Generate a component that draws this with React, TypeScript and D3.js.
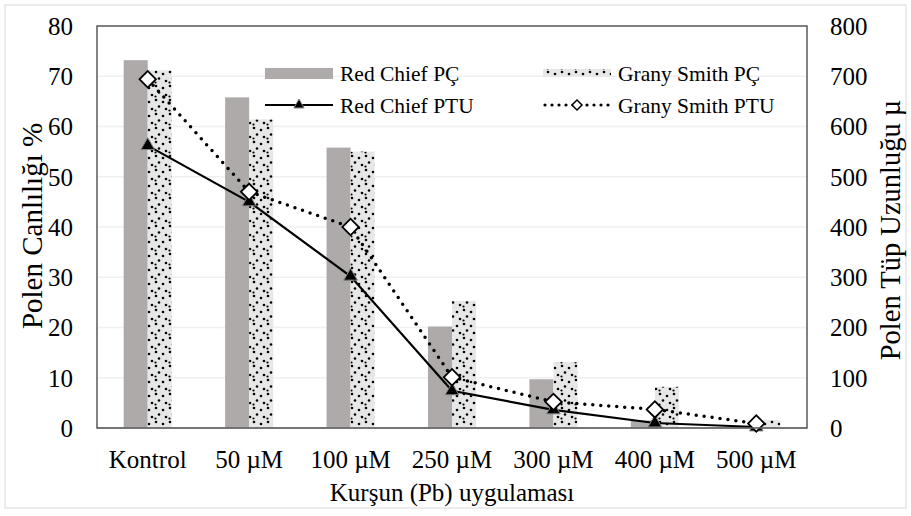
import React from 'react';
import * as d3 from 'd3';

const categories = ['Kontrol', '50 µM', '100 µM', '250 µM', '300 µM', '400 µM', '500 µM'];
const series = ['Red Chief PÇ', 'Grany Smith PÇ'];
const redChiefPC = [73.2, 65.8, 55.8, 20.2, 9.7, 1.5, 0.2];
const granySmithPC = [71.2, 61.4, 55.0, 25.3, 13.1, 8.2, 1.6];
const redChiefPTU = [562, 450, 302, 74, 36, 10, 2];
const granySmithPTU = [694, 470, 400, 101, 52, 37, 9];
const leftTicks = [0, 10, 20, 30, 40, 50, 60, 70, 80];
const rightTicks = [0, 100, 200, 300, 400, 500, 600, 700, 800];

const W = 911;
const H = 516;
const plot = { left: 97, right: 807, top: 26, bottom: 428 };
const serif = { fontFamily: "'Liberation Serif', 'Times New Roman', serif" };

const App: React.FC = () => {
  const x0 = d3.scaleBand<string>().domain(categories).range([plot.left, plot.right]).paddingInner(0).paddingOuter(0);
  const x1 = d3.scaleBand<string>().domain(series).range([0, x0.bandwidth()]).paddingInner(0).paddingOuter(1.11);
  const yL = d3.scaleLinear().domain([0, 80]).range([plot.bottom, plot.top]);
  const yR = d3.scaleLinear().domain([0, 800]).range([plot.bottom, plot.top]);
  const cx = (c: string) => (x0(c) || 0) + x0.bandwidth() / 2;

  const lineGen = d3
    .line<number>()
    .x((_, i) => cx(categories[i]))
    .y(d => yR(d));

  const tri = d3.symbol(d3.symbolTriangle, 80)() || '';
  const triSmall = d3.symbol(d3.symbolTriangle, 45)() || '';
  const diamond = d3.symbol(d3.symbolSquare, 135)() || '';
  const diamondSmall = d3.symbol(d3.symbolSquare, 50)() || '';

  return (
    <svg width={W} height={H} style={{ position: 'absolute', left: 0, top: 0, background: '#fff' }}>
      <defs>
        <pattern id="dots" patternUnits="userSpaceOnUse" width="14" height="14">
          <rect width="14" height="14" fill="#e8e7e7" />
          <circle cx="2" cy="2" r="1.3" fill="#000" />
          <circle cx="9" cy="4" r="1.3" fill="#000" />
          <circle cx="5" cy="8.5" r="1.3" fill="#000" />
          <circle cx="12" cy="11" r="1.3" fill="#000" />
          <circle cx="1.5" cy="12.5" r="1.1" fill="#000" />
        </pattern>
      </defs>
      <rect x={5} y={5} width={901} height={503} fill="#fff" stroke="#d9d9d9" strokeWidth={1} />

      {/* gridlines */}
      {leftTicks.map(t => (
        <line key={t} x1={plot.left} x2={plot.right} y1={yL(t)} y2={yL(t)} stroke="#f0f0f0" strokeWidth={1.5} />
      ))}

      {/* bars */}
      {categories.map((c, i) => (
        <g key={c}>
          <rect
            x={(x0(c) || 0) + (x1(series[0]) || 0)}
            y={yL(redChiefPC[i])}
            width={x1.bandwidth()}
            height={plot.bottom - yL(redChiefPC[i])}
            fill="#aeaaaa"
          />
          <rect
            x={(x0(c) || 0) + (x1(series[1]) || 0)}
            y={yL(granySmithPC[i])}
            width={x1.bandwidth()}
            height={plot.bottom - yL(granySmithPC[i])}
            fill="url(#dots)"
          />
        </g>
      ))}

      {/* baseline */}
      <line x1={plot.left} x2={plot.right} y1={plot.bottom} y2={plot.bottom} stroke="#bfbfbf" strokeWidth={1.5} />

      {/* PTU lines */}
      <path d={lineGen(redChiefPTU) || ''} fill="none" stroke="#000" strokeWidth={2.2} />
      <path d={lineGen(granySmithPTU) || ''} fill="none" stroke="#000" strokeWidth={3.5} strokeDasharray="0 8" strokeLinecap="round" />
      {redChiefPTU.map((v, i) => (
        <path key={i} d={tri} transform={`translate(${cx(categories[i])},${yR(v)})`} fill="#000" stroke="#808080" strokeWidth={1} />
      ))}
      {granySmithPTU.map((v, i) => (
        <path key={i} d={diamond} transform={`translate(${cx(categories[i])},${yR(v)}) rotate(45)`} fill="#fff" stroke="#000" strokeWidth={1.8} />
      ))}

      {/* plot frame */}
      <rect x={plot.left} y={plot.top} width={plot.right - plot.left} height={plot.bottom - plot.top} fill="none" stroke="#595959" strokeWidth={1.5} />

      <g style={serif} fontSize={25} fill="#000">
        {leftTicks.map(t => (
          <text key={t} x={73} y={yL(t)} dy="0.35em" textAnchor="end">
            {t}
          </text>
        ))}
        {rightTicks.map(t => (
          <text key={t} x={830} y={yR(t)} dy="0.35em" textAnchor="start">
            {t}
          </text>
        ))}
        {categories.map(c => (
          <text key={c} x={cx(c)} y={468} textAnchor="middle">
            {c}
          </text>
        ))}
        <text x={(plot.left + plot.right) / 2} y={501} textAnchor="middle">
          Kurşun (Pb) uygulaması
        </text>
        <text transform="translate(42,226) rotate(-90)" textAnchor="middle" fontSize={29}>
          Polen Canlılığı %
        </text>
        <text transform="translate(900,230) rotate(-90)" textAnchor="middle" fontSize={28.5}>
          Polen Tüp Uzunluğu µ
        </text>
      </g>

      {/* legend */}
      <g style={serif} fontSize={21.5} fill="#000">
        <rect x={265} y={68} width={68} height={11} fill="#aeaaaa" />
        <text x={340} y={81}>{series[0]}</text>
        <rect x={543} y={69} width={68} height={8} fill="url(#dots)" />
        <text x={618} y={81}>{series[1]}</text>
        <line x1={265} x2={333} y1={105} y2={105} stroke="#000" strokeWidth={2.2} />
        <path d={triSmall} transform="translate(299,105)" fill="#000" stroke="#808080" strokeWidth={1} />
        <text x={340} y={113}>Red Chief PTU</text>
        <line x1={545} x2={610} y1={105} y2={105} stroke="#000" strokeWidth={3.2} strokeDasharray="0 7" strokeLinecap="round" />
        <path d={diamondSmall} transform="translate(577,105) rotate(45)" fill="#fff" stroke="#000" strokeWidth={1.5} />
        <text x={618} y={113}>Grany Smith PTU</text>
      </g>
    </svg>
  );
};

export default App;
